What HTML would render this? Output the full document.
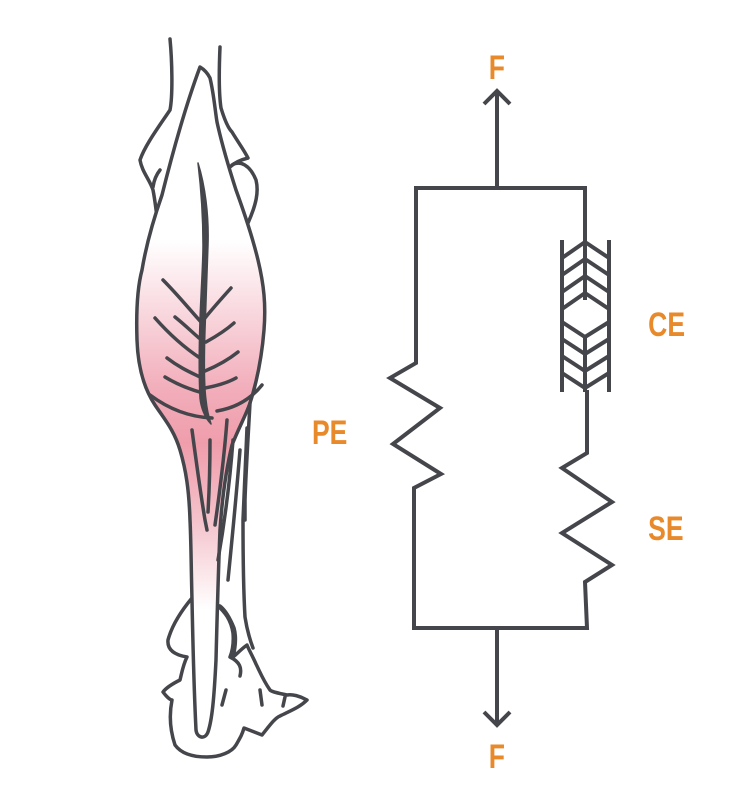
<!DOCTYPE html>
<html><head><style>
body{margin:0;background:#fff;width:738px;height:799px;overflow:hidden}
svg{display:block}
text{font-family:"Liberation Sans",sans-serif;font-weight:bold;fill:#e8892a;font-size:34px}
</style></head><body>
<svg width="738" height="799" viewBox="0 0 738 799">
<defs>
<linearGradient id="g" gradientUnits="userSpaceOnUse" x1="0" y1="240" x2="0" y2="610">
<stop offset="0" stop-color="#fff"/>
<stop offset="0.12" stop-color="#fbe7eb"/>
<stop offset="0.4" stop-color="#f2aebb"/>
<stop offset="0.55" stop-color="#ef9dab"/>
<stop offset="0.75" stop-color="#f4c1ca"/>
<stop offset="1" stop-color="#fff"/>
</linearGradient>
</defs>
<g fill="none" stroke="#45464b" stroke-width="4" stroke-linejoin="miter" stroke-linecap="butt">
<path d="M497 188 V92 M484 104 L497 91 L510 104"/>
<path d="M497 628 V724 M484 712 L497 725 L510 712"/>
<path d="M585 242 V188 H416 V363 L390 378 L440 408 L393 444 L441 474 L414 488 V628 H587 L585 582 L612 565 L562 533 L612 502 L562 468 L587 453 V390"/>
<path d="M562 240 V392 M609 240 V392"/>
<path d="M585 242 V300"/>
<path d="M562 258 L585 242 L609 258 M562 275 L585 259 L609 275 M562 292 L585 276 L609 292 M562 309 L585 293 L609 309"/>
<path d="M562 322 L585 337 L609 322 M562 339 L585 354 L609 339 M562 356 L585 371 L609 356 M562 373 L585 388 L609 373 M585 337 V392"/>
</g>
<g stroke="#45464b" stroke-width="3.5" fill="none" stroke-linejoin="round" stroke-linecap="round">
<path d="M170 39 C172 60 173 95 170 110 C160 125 145 145 140 160 C142 172 150 180 153 190 C155 200 156 210 157 217"/>
<path d="M160 170 C156 175 154 180 153 187"/>
<path d="M220 47 C219 70 219 95 221 108 C224 118 228 128 232 132 C238 142 244 150 248 158 C240 160 234 163 230 167"/>
<path d="M232 165 C240 160 250 165 256 180 C259 192 256 205 248 223"/>
<path d="M247 428 C245 470 244 500 243 520 C243 560 244 600 245 617 C247 630 250 640 253 648"/>
<path fill="#fff" d="M192 598 C182 610 172 625 168 640 C167 650 175 655 187 657 C183 665 182 672 180 680 C172 684 166 688 163 692 C166 696 170 700 172 700 C169 715 170 730 175 745 C180 752 190 757 207 757 C220 757 232 752 236 745 C240 738 242 735 244 728 L262 735 C270 725 275 718 280 716 C292 710 300 707 307 700 C300 696 292 694 287 695 C278 693 272 692 270 690 C263 680 260 672 256 664 C252 655 248 648 247 645 C240 650 236 655 233 657 C236 645 236 635 234 628 C230 618 225 610 220 606 Z"/>
<path d="M230 657 C240 662 242 668 240 676 M226 690 L222 705 M260 690 L262 705 M285 697 L283 706 M217 605 C225 612 231 620 233 633 C234 645 232 652 230 657"/>
<path fill="url(#g)" d="M200 67 C205 70 208 74 210 78 C214 95 215 110 217 122 C222 145 228 165 236 190 C244 212 252 235 258 260 C264 285 266 305 264 330 C262 355 258 378 250 403 C246 415 240 425 232 445 C226 470 222 500 220 530 C218 580 217 620 216 660 C214 700 212 720 208 732 C205 740 197 738 196 730 C194 690 193 650 192 600 C191 560 191 540 190 520 C189 490 186 470 180 450 C174 430 165 420 155 405 C145 390 138 370 137 340 C136 310 138 285 142 270 C147 240 155 215 162 195 C172 155 184 110 200 67 Z"/>
<path d="M250 403 C248 440 246 470 245 500 L245 520"/>
<path fill="#45464b" stroke-width="1.5" d="M198 163 C205 185 209 215 208 245 C207 275 206 300 205 330 C204 360 204 385 206 400 C207 410 209 418 211 424 C205 418 201 408 200 398 C199 378 199 350 200 320 C201 290 203 265 203 245 C203 215 201 188 198 163 Z"/>
<path d="M163 280 C178 295 190 310 201 322 M155 318 C170 335 185 348 200 358 M175 317 C185 325 192 332 199 338 M167 358 C180 368 192 373 202 378 M165 377 C178 385 192 390 203 393 M231 288 C222 298 213 308 205 318 M234 323 C225 331 215 337 206 342 M238 352 C228 360 217 366 205 371 M236 378 C227 383 216 386 205 388"/>
<path d="M150 395 C170 410 190 417 212 418 M217 411 C235 408 250 400 262 385"/>
<path d="M192 430 C196 460 200 490 205 520 L207 530 M210 440 C210 470 209 495 208 512 M227 420 C224 460 220 490 215 525 M233 440 C230 480 225 520 218 560 M240 450 C236 500 232 540 228 580"/>
</g>
<g transform="scale(0.78,1)">
<text x="637" y="79" text-anchor="middle">F</text>
<text x="637" y="768" text-anchor="middle">F</text>
<text x="831" y="336">CE</text>
<text x="400" y="444">PE</text>
<text x="831" y="540">SE</text>
</g>
</svg>
</body></html>
